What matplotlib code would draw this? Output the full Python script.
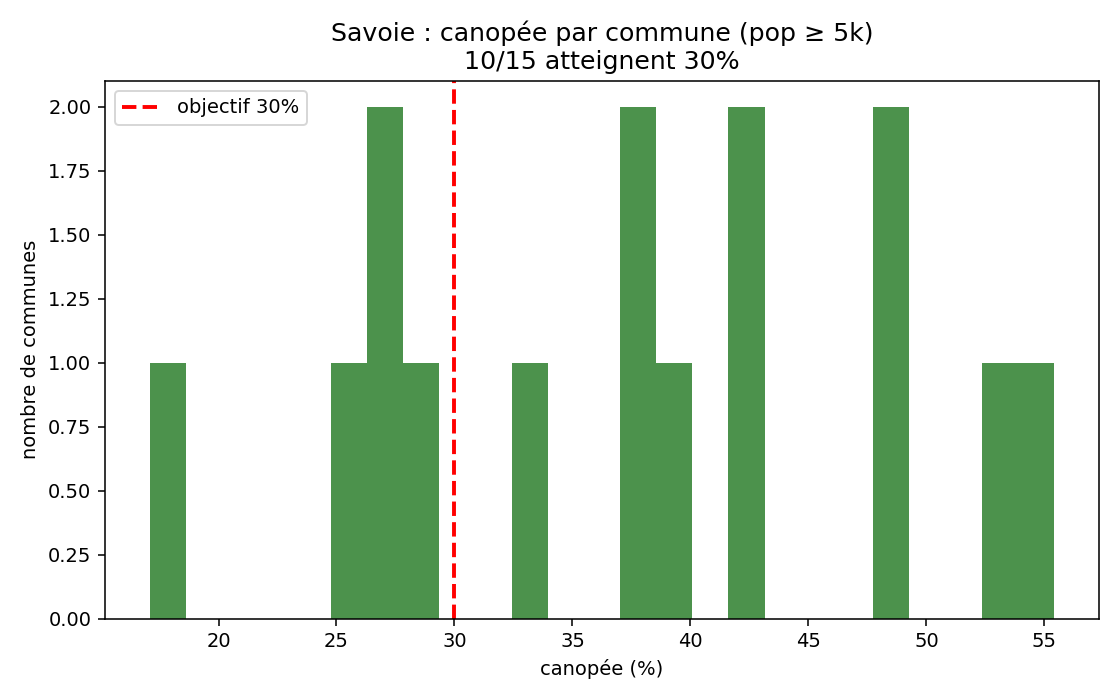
import numpy as np
import matplotlib
matplotlib.use("Agg")
import matplotlib.pyplot as plt

# canopy share (%) per commune
canopee = [17.1, 25.3, 26.8, 27.4, 28.6, 33.1, 37.5, 38.0, 39.2,
           42.0, 42.6, 48.3, 48.7, 53.0, 55.4]
objectif = 30
n_ok = sum(1 for v in canopee if v >= objectif)

fig, ax = plt.subplots(figsize=(8, 5), dpi=140)
ax.hist(canopee, bins=25, color="darkgreen", alpha=0.7)
ax.axvline(objectif, color="red", linestyle="--", linewidth=2,
           label=f"objectif {objectif}%")
ax.set_xlabel("canopée (%)")
ax.set_ylabel("nombre de communes")
ax.set_title(f"Savoie : canopée par commune (pop ≥ 5k)\n"
             f"{n_ok}/{len(canopee)} atteignent {objectif}%", fontsize=13)
ax.legend(loc="upper left")
fig.tight_layout()
fig.savefig("out.png")
